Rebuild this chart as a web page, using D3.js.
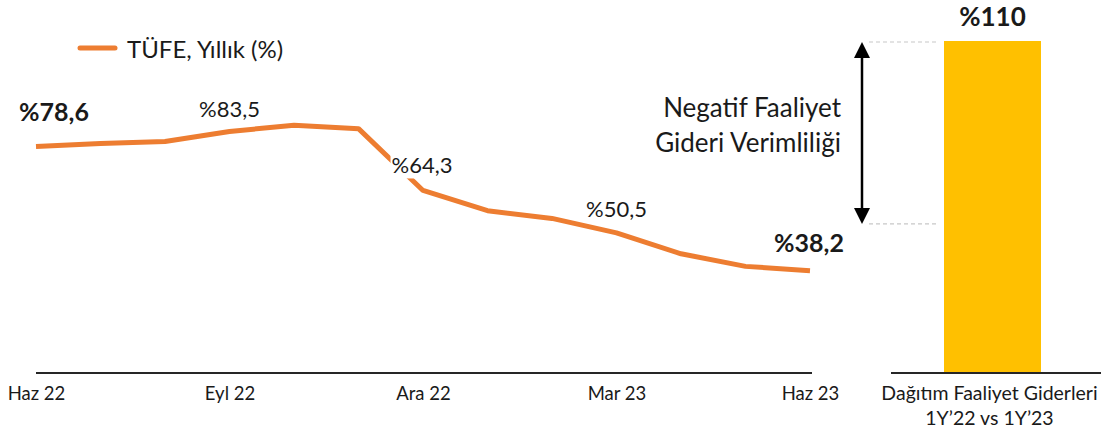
<!DOCTYPE html>
<html><head><meta charset="utf-8">
<script src="https://cdn.jsdelivr.net/npm/d3@7"></script>
<style>
html,body{margin:0;padding:0;background:#fff;}
svg{display:block;font-family:Lato,"Open Sans",sans-serif;}
</style></head>
<body><svg id="chart" width="1104" height="437"></svg>
<script>
// ---- data ----
const months = ["Haz 22","Tem 22","Ağu 22","Eyl 22","Eki 22","Kas 22","Ara 22","Oca 23","Şub 23","Mar 23","Nis 23","May 23","Haz 23"];
const tufe = [78.6,79.6,80.2,83.5,85.5,84.4,64.3,57.7,55.2,50.5,43.7,39.6,38.2];
const tickLabels = ["Haz 22","Eyl 22","Ara 22","Mar 23","Haz 23"];
const labelledMonths = ["Haz 22","Eyl 22","Ara 22","Mar 23","Haz 23"];
const labelText = ["%78,6","%83,5","%64,3","%50,5","%38,2"];
const seriesName = "TÜFE, Yıllık (%)";
const barCategories = ["Dağıtım Faaliyet Giderleri"];
const barCategoryLines = ["Dağıtım Faaliyet Giderleri","1Y’22 vs 1Y’23"];
const barValues = [110];
const barLabels = ["%110"];
const annotationLines = ["Negatif Faaliyet","Gideri Verimliliği"];
const annotationLow = 49.4; // lower reference level (bar scale)

// ---- setup ----
const svg = d3.select("#chart");
const orange = "#ED7D31", gold = "#FFC000", ink = "#1a1a1a";
const axisY = 373;

const x = d3.scalePoint().domain(months).range([36, 810]);
const y = d3.scaleLinear().domain([0, 100]).range([388.1, 80.7]);
const xb = d3.scaleBand().domain(barCategories).range([890, 1095]).padding(0.3576);
const yb = d3.scaleLinear().domain([0, 110]).range([axisY, 41]);

// ---- left axis ----
const ax = svg.append("g").attr("transform", `translate(0,${axisY})`)
  .call(d3.axisBottom(x).tickValues(tickLabels).tickSize(0).tickSizeOuter(0));
ax.select(".domain").attr("stroke", "#262626").attr("stroke-width", 2)
  .attr("d", `M${x.range()[0]},0H${x.range()[1] + 2}`);
ax.selectAll("text").attr("y", 27).attr("dy", 0)
  .attr("font-size", 18.5).attr("fill", ink).attr("font-family", "Lato");

// ---- line ----
const line = d3.line().x((d, i) => x(months[i])).y(d => y(d));
svg.append("path").datum(tufe).attr("d", line)
  .attr("fill", "none").attr("stroke", orange).attr("stroke-width", 5)
  .attr("stroke-linejoin", "round");

// ---- point labels ----
const offs = [[18,-25.5,true],[0,-14,false],[-1,-17,false],[0,-16,false],[-1,-19,true]];
labelledMonths.forEach((m, k) => {
  const i = months.indexOf(m);
  const [dx, dy, bold] = offs[k];
  const g = svg.append("g");
  const t = g.append("text")
    .attr("x", x(m) + dx).attr("y", y(tufe[i]) + dy)
    .attr("text-anchor", "middle").attr("fill", ink)
    .attr("font-size", bold ? 25 : 22).attr("font-weight", bold ? 700 : 400)
    .text(labelText[k]);
  const bb = t.node().getBBox();
  g.insert("rect", "text").attr("x", bb.x - 1).attr("y", bb.y + 2)
    .attr("width", bb.width + 2).attr("height", bb.height - 2).attr("fill", "#fff");
});

// ---- legend ----
svg.append("line").attr("x1", 80).attr("x2", 115).attr("y1", 48).attr("y2", 48)
  .attr("stroke", orange).attr("stroke-width", 5).attr("stroke-linecap", "round");
svg.append("text").attr("x", 127).attr("y", 58).attr("font-size", 24).attr("fill", ink)
  .text(seriesName);

// ---- bar ----
const bx = svg.append("g").attr("transform", `translate(0,${axisY})`)
  .call(d3.axisBottom(xb).tickSize(0).tickSizeOuter(0).tickFormat(""));
bx.select(".domain").attr("stroke", "#262626").attr("stroke-width", 2)
  .attr("d", "M891,0H1101");
svg.selectAll("rect.bar").data(barValues).join("rect").attr("class", "bar")
  .attr("x", (d, i) => xb(barCategories[i])).attr("width", xb.bandwidth())
  .attr("y", d => yb(d)).attr("height", d => axisY - 1 - yb(d)).attr("fill", gold);
svg.selectAll("text.barlab").data(barValues).join("text").attr("class", "barlab")
  .attr("x", (d, i) => xb(barCategories[i]) + xb.bandwidth() / 2)
  .attr("y", d => yb(d) - 15).attr("text-anchor", "middle")
  .attr("font-size", 26).attr("font-weight", 700).attr("fill", ink)
  .text((d, i) => barLabels[i]);
const cx = xb(barCategories[0]) + xb.bandwidth() / 2;
svg.append("text").attr("text-anchor", "middle").attr("font-size", 19.5).attr("fill", ink)
  .selectAll("tspan").data(barCategoryLines).join("tspan")
  .attr("x", cx - 3).attr("y", (d, i) => 400 + i * 25).text(d => d);

// ---- annotation ----
const yTop = yb(barValues[0]) + 1, yLow = yb(annotationLow);
[yTop, yLow].forEach(v => svg.append("line").attr("x1", 869).attr("x2", 938)
  .attr("y1", v).attr("y2", v).attr("stroke", "#c8c8c8").attr("stroke-width", 1.2)
  .attr("stroke-dasharray", "4,3"));
const ax0 = 862;
svg.append("line").attr("x1", ax0).attr("x2", ax0).attr("y1", yTop + 10).attr("y2", yLow - 10)
  .attr("stroke", "#000").attr("stroke-width", 2.5);
svg.append("path").attr("d", `M${ax0},${yTop}L${ax0 - 8},${yTop + 16}L${ax0 + 8},${yTop + 16}Z`).attr("fill", "#000");
svg.append("path").attr("d", `M${ax0},${yLow}L${ax0 - 8},${yLow - 16}L${ax0 + 8},${yLow - 16}Z`).attr("fill", "#000");
svg.append("text").attr("text-anchor", "end").attr("font-size", 26).attr("fill", ink)
  .selectAll("tspan").data(annotationLines).join("tspan")
  .attr("x", 841).attr("y", (d, i) => 117 + i * 35).text(d => d);
</script></body></html>
